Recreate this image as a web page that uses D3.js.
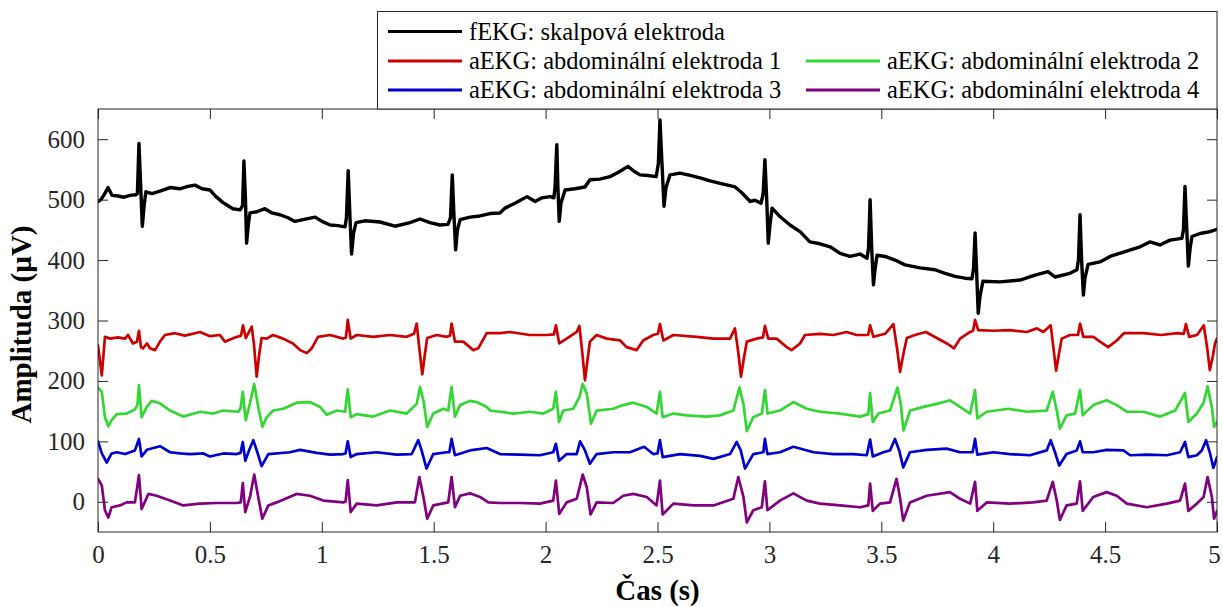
<!DOCTYPE html>
<html><head><meta charset="utf-8">
<script src="https://cdn.jsdelivr.net/npm/d3@7"></script>
<style>body{margin:0;background:#fff} svg{display:block}</style>
</head><body>
<svg id="c" width="1223" height="607"></svg>
<script>
// ---------- data ----------
const seriesNames = [
  "fEKG: skalpová elektroda",
  "aEKG: abdominální elektroda 1",
  "aEKG: abdominální elektroda 2",
  "aEKG: abdominální elektroda 3",
  "aEKG: abdominální elektroda 4"
];
const xTicks = [0, 0.5, 1, 1.5, 2, 2.5, 3, 3.5, 4, 4.5, 5];
const yTicks = [0, 100, 200, 300, 400, 500, 600];
const xLabel = "Čas (s)";
const yLabel = "Amplituda (µV)";

// [time s, amplitude µV]
const fekg = [[0,497],[0.013,500],[0.027,508],[0.045,520],[0.063,507],[0.089,506],[0.116,504],[0.143,507],[0.170,508],[0.176,510],[0.183,593],[0.191,520],[0.198,456],[0.206,490],[0.214,513],[0.241,510],[0.277,514],[0.322,520],[0.366,518],[0.402,522],[0.433,524],[0.465,518],[0.500,516],[0.527,505],[0.559,495],[0.581,490],[0.603,485],[0.635,483],[0.646,490],[0.652,564],[0.659,500],[0.664,428],[0.672,460],[0.679,478],[0.710,480],[0.746,485],[0.777,478],[0.813,475],[0.849,470],[0.880,464],[0.916,467],[0.970,471],[1.001,464],[1.037,458],[1.072,457],[1.104,455],[1.110,470],[1.118,548],[1.126,470],[1.133,410],[1.142,445],[1.153,462],[1.193,465],[1.260,463],[1.327,456],[1.394,462],[1.439,468],[1.483,462],[1.528,458],[1.564,459],[1.575,470],[1.583,541],[1.591,470],[1.598,417],[1.606,450],[1.618,467],[1.662,471],[1.707,473],[1.752,477],[1.796,478],[1.819,486],[1.863,494],[1.917,505],[1.953,497],[1.984,503],[2.020,505],[2.037,503],[2.042,520],[2.050,591],[2.055,520],[2.061,464],[2.069,495],[2.087,516],[2.131,518],[2.176,521],[2.198,533],[2.243,534],[2.288,538],[2.333,547],[2.368,555],[2.395,547],[2.422,541],[2.458,540],[2.494,538],[2.504,560],[2.511,632],[2.520,560],[2.529,489],[2.538,520],[2.556,541],[2.601,544],[2.646,540],[2.690,536],[2.735,531],[2.780,527],[2.847,521],[2.878,511],[2.914,497],[2.936,499],[2.963,494],[2.972,510],[2.980,566],[2.988,500],[2.995,428],[3.003,460],[3.012,486],[3.047,472],[3.092,458],[3.137,447],[3.181,430],[3.226,427],[3.271,422],[3.316,411],[3.360,406],[3.405,410],[3.436,403],[3.443,420],[3.450,500],[3.457,420],[3.465,359],[3.472,385],[3.481,408],[3.517,406],[3.561,400],[3.606,392],[3.673,387],[3.740,384],[3.785,378],[3.829,373],[3.874,370],[3.905,369],[3.912,385],[3.919,445],[3.926,380],[3.933,312],[3.941,340],[3.954,365],[4.030,364],[4.120,367],[4.187,375],[4.245,381],[4.276,372],[4.343,378],[4.374,384],[4.381,400],[4.388,475],[4.395,400],[4.403,342],[4.410,370],[4.424,393],[4.477,397],[4.522,406],[4.589,414],[4.656,422],[4.700,430],[4.745,425],[4.790,433],[4.843,436],[4.850,450],[4.857,522],[4.865,450],[4.872,390],[4.880,420],[4.888,439],[4.924,444],[4.969,447],[5.000,451]];

const aekg1 = [[0,259],[0.017,209],[0.031,273],[0.054,270],[0.089,272],[0.121,270],[0.134,276],[0.156,262],[0.174,265],[0.183,283],[0.192,256],[0.201,254],[0.219,262],[0.232,254],[0.255,251],[0.277,265],[0.299,276],[0.344,279],[0.389,275],[0.456,281],[0.500,274],[0.545,276],[0.567,265],[0.612,272],[0.639,275],[0.648,292],[0.660,271],[0.687,290],[0.697,260],[0.709,207],[0.719,240],[0.731,271],[0.754,270],[0.782,276],[0.827,270],[0.871,262],[0.903,251],[0.933,246],[0.955,254],[0.983,273],[1.037,276],[1.096,270],[1.108,272],[1.116,301],[1.129,270],[1.156,276],[1.229,273],[1.305,276],[1.379,273],[1.412,278],[1.424,295],[1.434,260],[1.449,211],[1.461,245],[1.471,271],[1.513,276],[1.558,273],[1.573,275],[1.580,295],[1.595,265],[1.632,265],[1.677,251],[1.699,254],[1.737,279],[1.796,279],[1.841,281],[1.930,276],[2.005,276],[2.037,277],[2.046,292],[2.061,262],[2.094,270],[2.139,281],[2.151,291],[2.163,250],[2.176,201],[2.189,240],[2.198,265],[2.228,276],[2.273,270],[2.333,267],[2.362,256],[2.407,251],[2.436,267],[2.481,276],[2.502,278],[2.511,294],[2.526,267],[2.571,276],[2.675,273],[2.750,270],[2.824,270],[2.846,287],[2.860,250],[2.873,207],[2.887,240],[2.899,265],[2.943,270],[2.971,272],[2.980,291],[2.995,270],[3.032,270],[3.077,256],[3.099,251],[3.137,262],[3.159,276],[3.226,278],[3.286,276],[3.345,281],[3.390,276],[3.441,276],[3.450,292],[3.465,273],[3.517,278],[3.554,294],[3.570,255],[3.584,215],[3.599,245],[3.614,271],[3.650,276],[3.699,281],[3.748,271],[3.793,262],[3.825,254],[3.852,270],[3.897,281],[3.910,283],[3.919,301],[3.933,284],[4.001,283],[4.075,284],[4.150,281],[4.195,287],[4.224,281],[4.257,292],[4.269,255],[4.281,217],[4.294,245],[4.306,270],[4.343,276],[4.379,276],[4.388,295],[4.403,273],[4.448,273],[4.477,265],[4.514,256],[4.552,267],[4.584,279],[4.673,279],[4.750,276],[4.825,279],[4.852,278],[4.861,294],[4.876,273],[4.911,276],[4.941,292],[4.956,255],[4.968,218],[4.981,240],[4.991,262],[5.000,270]];

const aekg2 = [[0,189],[0.017,182],[0.031,140],[0.046,125],[0.061,135],[0.084,145],[0.128,146],[0.165,153],[0.176,160],[0.183,193],[0.195,140],[0.218,157],[0.240,167],[0.277,163],[0.322,151],[0.381,141],[0.456,149],[0.515,146],[0.560,151],[0.627,149],[0.637,155],[0.647,182],[0.660,135],[0.679,163],[0.698,195],[0.716,157],[0.734,124],[0.754,140],[0.783,151],[0.828,154],[0.887,164],[0.947,165],[0.992,157],[1.022,144],[1.067,151],[1.104,149],[1.116,186],[1.129,140],[1.156,145],[1.230,141],[1.305,151],[1.379,146],[1.424,162],[1.439,190],[1.454,168],[1.471,124],[1.498,146],[1.543,154],[1.565,151],[1.580,190],[1.595,141],[1.618,160],[1.662,167],[1.692,165],[1.737,157],[1.752,151],[1.796,149],[1.856,146],[1.930,149],[1.990,146],[2.034,154],[2.046,182],[2.060,132],[2.079,151],[2.124,154],[2.151,173],[2.166,195],[2.184,179],[2.203,129],[2.228,151],[2.302,154],[2.347,160],[2.392,164],[2.452,157],[2.496,146],[2.511,182],[2.523,140],[2.571,146],[2.630,143],[2.720,141],[2.779,143],[2.839,151],[2.866,189],[2.884,162],[2.899,117],[2.928,140],[2.966,146],[2.980,185],[2.992,146],[3.047,151],[3.107,165],[3.167,154],[3.226,149],[3.316,146],[3.405,141],[3.442,145],[3.450,180],[3.462,132],[3.487,146],[3.539,151],[3.572,189],[3.587,162],[3.599,118],[3.629,151],[3.688,157],[3.748,162],[3.807,168],[3.852,157],[3.897,146],[3.919,185],[3.929,138],[3.971,149],[4.068,154],[4.150,149],[4.239,151],[4.266,182],[4.284,151],[4.298,121],[4.328,143],[4.366,146],[4.388,185],[4.400,143],[4.447,160],[4.507,168],[4.552,160],[4.597,149],[4.671,149],[4.746,141],[4.813,151],[4.857,180],[4.872,132],[4.910,146],[4.940,164],[4.958,191],[4.977,157],[4.987,124],[5.000,132]];

const aekg3 = [[0,100],[0.017,80],[0.039,65],[0.061,80],[0.084,82],[0.121,79],[0.143,82],[0.165,85],[0.183,104],[0.195,75],[0.218,86],[0.277,92],[0.322,82],[0.366,80],[0.411,79],[0.471,80],[0.500,75],[0.560,80],[0.620,79],[0.637,81],[0.647,99],[0.658,68],[0.676,86],[0.694,102],[0.712,82],[0.731,59],[0.761,79],[0.858,82],[0.903,86],[0.977,81],[1.037,78],[1.096,79],[1.106,80],[1.116,100],[1.129,74],[1.156,79],[1.245,82],[1.335,78],[1.402,79],[1.431,102],[1.446,85],[1.468,55],[1.498,79],[1.558,82],[1.570,82],[1.580,104],[1.595,77],[1.662,85],[1.737,89],[1.796,79],[1.886,78],[1.975,77],[2.034,82],[2.046,96],[2.060,68],[2.094,79],[2.139,79],[2.154,100],[2.176,85],[2.198,63],[2.228,79],[2.302,82],[2.377,82],[2.440,91],[2.481,79],[2.500,80],[2.511,102],[2.523,74],[2.601,79],[2.690,76],[2.750,71],[2.824,79],[2.854,99],[2.872,85],[2.891,55],[2.928,79],[2.973,82],[2.980,104],[2.991,79],[3.047,82],[3.107,91],[3.197,82],[3.286,79],[3.375,79],[3.435,77],[3.450,103],[3.462,75],[3.509,82],[3.539,85],[3.561,104],[3.580,85],[3.598,57],[3.628,82],[3.703,86],[3.792,88],[3.852,82],[3.908,82],[3.919,104],[3.929,78],[4.001,82],[4.075,79],[4.164,77],[4.239,85],[4.257,102],[4.276,82],[4.295,60],[4.328,79],[4.373,85],[4.388,100],[4.400,82],[4.447,82],[4.507,86],[4.582,85],[4.612,77],[4.686,78],[4.776,77],[4.835,82],[4.857,99],[4.872,74],[4.910,77],[4.932,85],[4.951,102],[4.969,80],[4.984,56],[5.000,74]];

const aekg4 = [[0,38],[0.017,27],[0.031,-14],[0.046,-26],[0.061,-9],[0.098,-6],[0.128,-1],[0.165,-1],[0.183,44],[0.195,-12],[0.225,13],[0.262,10],[0.322,2],[0.381,-6],[0.456,-3],[0.530,-2],[0.620,-2],[0.638,-1],[0.647,31],[0.658,-17],[0.679,8],[0.698,45],[0.716,8],[0.734,-28],[0.761,-6],[0.798,-1],[0.887,13],[0.947,10],[1.007,2],[1.096,-1],[1.106,0],[1.116,36],[1.129,-17],[1.156,-3],[1.245,-6],[1.335,-1],[1.416,-1],[1.436,41],[1.454,8],[1.471,-28],[1.498,-6],[1.565,-1],[1.580,41],[1.595,-9],[1.618,10],[1.662,14],[1.707,8],[1.744,-1],[1.796,-2],[1.886,-2],[1.975,-3],[2.034,2],[2.046,35],[2.061,-20],[2.094,-1],[2.139,5],[2.166,45],[2.184,24],[2.201,-21],[2.228,-1],[2.302,-2],[2.347,10],[2.392,13],[2.452,8],[2.496,-6],[2.511,35],[2.523,-21],[2.571,-3],[2.660,-6],[2.750,-6],[2.839,5],[2.861,41],[2.884,8],[2.899,-34],[2.928,-14],[2.966,-9],[2.980,34],[2.991,-14],[3.047,2],[3.107,14],[3.167,2],[3.226,-3],[3.316,-6],[3.405,-9],[3.442,-6],[3.450,30],[3.462,-15],[3.494,-3],[3.539,-1],[3.568,38],[3.583,8],[3.598,-31],[3.628,-1],[3.703,10],[3.807,16],[3.852,5],[3.897,-3],[3.919,33],[3.929,-15],[3.971,-1],[4.075,-3],[4.179,-1],[4.239,2],[4.266,33],[4.284,2],[4.298,-30],[4.328,-6],[4.373,-3],[4.388,34],[4.400,-15],[4.447,8],[4.507,16],[4.552,10],[4.597,-3],[4.686,-9],[4.776,-3],[4.835,2],[4.857,30],[4.872,-15],[4.910,-3],[4.940,8],[4.958,41],[4.977,8],[4.987,-28],[5.000,-15]];

const seriesData = [fekg, aekg1, aekg2, aekg3, aekg4];
const seriesColors = ["#000000", "#cc0000", "#33d633", "#0000cc", "#800080"];

// ---------- chart ----------
const FONT = "'Liberation Serif','Times New Roman',serif";
const AX = "#262626";
const svg = d3.select("#c");
const L = 98, R = 1217, T = 109, B = 532;
const x = d3.scaleLinear().domain([0, 5]).range([L, R]);
const y = d3.scaleLinear().domain([-50, 650]).range([B, T]);

svg.append("defs").append("clipPath").attr("id", "clip")
  .append("rect").attr("x", L).attr("y", T).attr("width", R - L).attr("height", B - T);

const line = d3.line().x(d => x(d[0])).y(d => y(d[1]));
const g = svg.append("g").attr("clip-path", "url(#clip)");
seriesData.forEach((s, i) => {
  g.append("path").datum(s).attr("d", line)
    .attr("fill", "none").attr("stroke", seriesColors[i])
    .attr("stroke-width", i === 0 ? 3.4 : 2.7)
    .attr("stroke-linejoin", "round").attr("stroke-linecap", "round");
});

const fmt = d => String(d);
const TL = 10;
function styleAxis(sel, labels) {
  sel.select(".domain").remove();
  sel.selectAll(".tick line").attr("stroke", AX).attr("stroke-width", 1);
  if (!labels) sel.selectAll(".tick text").remove();
  else sel.selectAll(".tick text").attr("fill", AX).attr("font-family", FONT).attr("font-size", 25);
}
svg.append("g").attr("transform", `translate(0,${B})`)
  .call(d3.axisBottom(x).tickValues(xTicks).tickFormat(fmt).tickSizeInner(-TL).tickSizeOuter(0).tickPadding(TL + 3))
  .call(s => styleAxis(s, true))
  .call(s => s.selectAll(".tick text").filter(d => d === 5).attr("dx", -3));
svg.append("g").attr("transform", `translate(0,${T})`)
  .call(d3.axisTop(x).tickValues(xTicks).tickSizeInner(-TL).tickSizeOuter(0))
  .call(s => styleAxis(s, false));
svg.append("g").attr("transform", `translate(${L},0)`)
  .call(d3.axisLeft(y).tickValues(yTicks).tickFormat(fmt).tickSizeInner(-TL).tickSizeOuter(0).tickPadding(TL + 3))
  .call(s => styleAxis(s, true));
svg.append("g").attr("transform", `translate(${R},0)`)
  .call(d3.axisRight(y).tickValues(yTicks).tickSizeInner(-TL).tickSizeOuter(0))
  .call(s => styleAxis(s, false));

svg.append("rect").attr("x", L).attr("y", T).attr("width", R - L).attr("height", B - T)
  .attr("fill", "none").attr("stroke", AX).attr("stroke-width", 1);

// axis labels
svg.append("text").attr("x", (L + R) / 2).attr("y", 600)
  .attr("text-anchor", "middle").attr("font-family", FONT).attr("font-weight", "bold")
  .attr("font-size", 29).attr("fill", "#000").text(xLabel);
svg.append("text").attr("transform", `translate(31,${(T + B) / 2 + 4}) rotate(-90)`)
  .attr("text-anchor", "middle").attr("font-family", FONT).attr("font-weight", "bold")
  .attr("font-size", 29).attr("fill", "#000").text(yLabel);

// legend
const lg = svg.append("g");
lg.append("rect").attr("x", 377.5).attr("y", 11.5).attr("width", R - 377.5).attr("height", T - 11.5)
  .attr("fill", "#fff").attr("stroke", AX).attr("stroke-width", 1);
const legendPos = [[0, 0], [0, 1], [1, 1], [0, 2], [1, 2]];
const colX = [388, 806], rowY = [31.5, 61, 90];
seriesNames.forEach((name, i) => {
  const [c, r] = legendPos[i];
  lg.append("line").attr("x1", colX[c]).attr("x2", colX[c] + 74)
    .attr("y1", rowY[r]).attr("y2", rowY[r])
    .attr("stroke", seriesColors[i]).attr("stroke-width", 3);
  lg.append("text").attr("x", colX[c] + 81).attr("y", rowY[r]).attr("dy", "0.33em")
    .attr("font-family", FONT).attr("font-size", 24.5).attr("fill", "#000").text(name);
});
</script>
</body></html>
